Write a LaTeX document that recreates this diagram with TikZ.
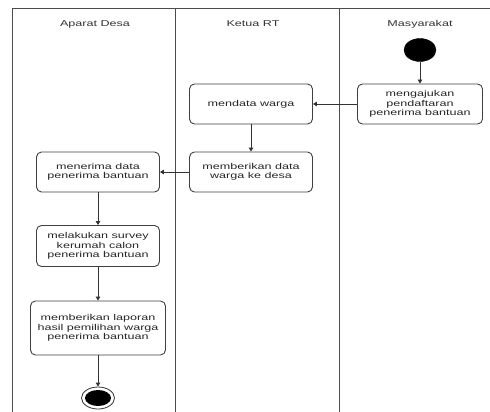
\documentclass[tikz,border=0pt]{standalone}
\usepackage{fontspec}
\setmainfont{Liberation Sans}[FakeStretch=1.48]
\usetikzlibrary{arrows.meta,shapes.geometric}
\begin{document}
\begin{tikzpicture}[x=1pt,y=-1pt,
  act/.style={draw=black!75,line width=0.9pt,rounded corners=5pt,fill=white,minimum width=123pt,align=center,font=\fontsize{8.5}{9.6}\selectfont,text=black!85,inner sep=2pt},
  lane/.style={draw=black!70,line width=1pt},
  hdr/.style={font=\fontsize{8.5}{10}\selectfont,text=black!80},
  flow/.style={draw=black!80,line width=0.9pt,-{Triangle[length=4pt,width=4.5pt]}}]
\useasboundingbox (0,0) rectangle (490,412);
\fill[white] (0,0) rectangle (490,412);
\draw[lane] (12,412) -- (12,9) -- (490,9);
\draw[lane] (175,9) -- (175,412);
\draw[lane] (339,9) -- (339,412);
\node[hdr] (h1) at (95,24) {Aparat Desa};
\node[hdr] (h2) at (253,24) {Ketua RT};
\node[hdr] (h3) at (420,24) {Masyarakat};
\node[draw=black,fill=black,ellipse,minimum width=32pt,minimum height=23pt,inner sep=0pt] (start) at (420,50) {};
\node[act,minimum width=125pt,minimum height=40pt] (a1) at (420,104) {mengajukan\\pendaftaran\\penerima bantuan};
\node[act,minimum height=40pt] (a2) at (251,104) {mendata warga};
\node[act,minimum height=40pt] (a3) at (251,172) {memberikan data\\warga ke desa};
\node[act,minimum height=40pt] (a4) at (98,172) {menerima data\\penerima bantuan};
\node[act,minimum height=41pt] (a5) at (98,246) {melakukan survey\\kerumah calon\\penerima bantuan};
\node[act,minimum width=135pt,minimum height=54pt] (a6) at (98,328) {memberikan laporan\\hasil pemilihan warga\\penerima bantuan};
\node[draw=black!80,line width=0.8pt,ellipse,minimum width=33pt,minimum height=22pt,inner sep=0pt] (end) at (98,398) {};
\node[fill=black,ellipse,minimum width=26pt,minimum height=16pt,inner sep=0pt] (endin) at (98,398) {};
\draw[flow] (start) -- (a1);
\draw[flow] (a1) -- (a2);
\draw[flow] (a2) -- (a3);
\draw[flow] (a3) -- (a4);
\draw[flow] (a4) -- (a5);
\draw[flow] (a5) -- (a6);
\draw[flow] (a6) -- (end);
\end{tikzpicture}
\end{document}
